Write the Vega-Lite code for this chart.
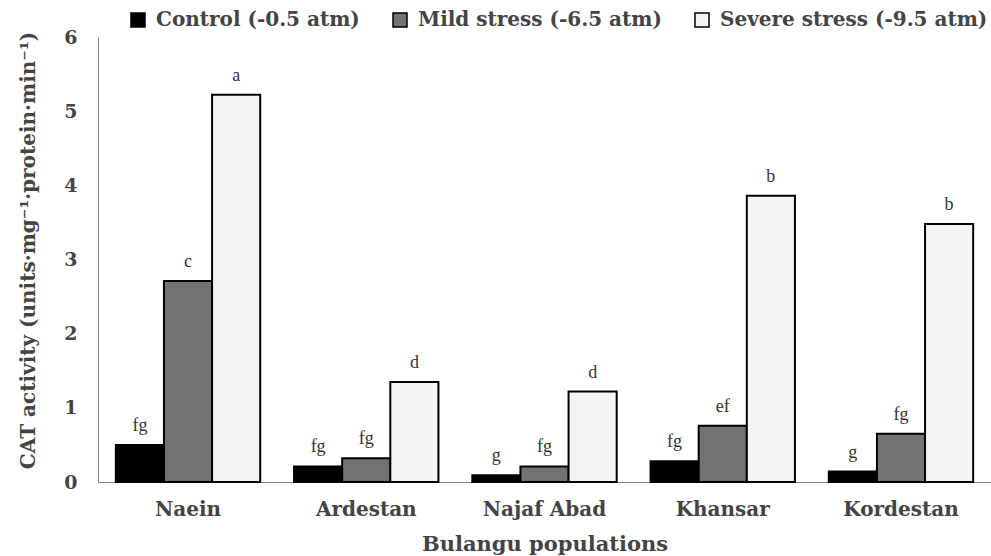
{
  "$schema": "https://vega.github.io/schema/vega-lite/v6.json",
  "width": 893,
  "height": 445,
  "autosize": {"type": "none"},
  "padding": {"left": 98, "top": 37, "right": 0, "bottom": 74},
  "background": "white",
  "config": {"view": {"stroke": null}},
  "data": {
    "values": [
      {"Population": "Naein", "Treatment": "Control (-0.5 atm)", "CAT": 0.50, "Letter": "fg"},
      {"Population": "Naein", "Treatment": "Mild stress (-6.5 atm)", "CAT": 2.71, "Letter": "c"},
      {"Population": "Naein", "Treatment": "Severe stress (-9.5 atm)", "CAT": 5.22, "Letter": "a"},
      {"Population": "Ardestan", "Treatment": "Control (-0.5 atm)", "CAT": 0.21, "Letter": "fg"},
      {"Population": "Ardestan", "Treatment": "Mild stress (-6.5 atm)", "CAT": 0.32, "Letter": "fg"},
      {"Population": "Ardestan", "Treatment": "Severe stress (-9.5 atm)", "CAT": 1.35, "Letter": "d"},
      {"Population": "Najaf Abad", "Treatment": "Control (-0.5 atm)", "CAT": 0.09, "Letter": "g"},
      {"Population": "Najaf Abad", "Treatment": "Mild stress (-6.5 atm)", "CAT": 0.21, "Letter": "fg"},
      {"Population": "Najaf Abad", "Treatment": "Severe stress (-9.5 atm)", "CAT": 1.22, "Letter": "d"},
      {"Population": "Khansar", "Treatment": "Control (-0.5 atm)", "CAT": 0.28, "Letter": "fg"},
      {"Population": "Khansar", "Treatment": "Mild stress (-6.5 atm)", "CAT": 0.76, "Letter": "ef"},
      {"Population": "Khansar", "Treatment": "Severe stress (-9.5 atm)", "CAT": 3.86, "Letter": "b"},
      {"Population": "Kordestan", "Treatment": "Control (-0.5 atm)", "CAT": 0.14, "Letter": "g"},
      {"Population": "Kordestan", "Treatment": "Mild stress (-6.5 atm)", "CAT": 0.65, "Letter": "fg"},
      {"Population": "Kordestan", "Treatment": "Severe stress (-9.5 atm)", "CAT": 3.48, "Letter": "b"}
    ]
  },
  "encoding": {
    "x": {
      "field": "Population",
      "type": "nominal",
      "sort": null,
      "scale": {"paddingInner": 0.19, "paddingOuter": 0.1},
      "axis": {
        "title": "Bulangu populations",
        "labelAngle": 0,
        "ticks": false,
        "domainColor": "#888888",
        "labelFont": "DejaVu Serif",
        "labelFontWeight": "bold",
        "labelFontSize": 20,
        "labelColor": "#444444",
        "labelPadding": 17,
        "titleFont": "DejaVu Serif",
        "titleFontWeight": "bold",
        "titleFontSize": 21,
        "titleColor": "#444444",
        "titlePadding": 14
      }
    },
    "xOffset": {"field": "Treatment", "type": "nominal", "sort": null, "scale": {"paddingInner": 0}},
    "y": {
      "field": "CAT",
      "type": "quantitative",
      "scale": {"domain": [0, 6], "nice": false},
      "axis": {
        "title": "CAT activity (units·mg⁻¹·protein·min⁻¹)",
        "values": [0, 1, 2, 3, 4, 5, 6],
        "grid": false,
        "ticks": false,
        "domainColor": "#888888",
        "labelFont": "DejaVu Serif",
        "labelFontWeight": "bold",
        "labelFontSize": 19,
        "labelColor": "#444444",
        "labelPadding": 21,
        "titleFont": "DejaVu Serif",
        "titleFontWeight": "bold",
        "titleFontSize": 20,
        "titleColor": "#444444",
        "titlePadding": 25,
        "titleY": 213
      }
    }
  },
  "layer": [
    {
      "mark": {"type": "bar", "stroke": "black", "strokeWidth": 2},
      "encoding": {
        "color": {
          "field": "Treatment",
          "type": "nominal",
          "sort": null,
          "scale": {"range": ["#000000", "#727272", "#f4f4f4"]},
          "legend": {
            "title": null,
            "orient": "none",
            "legendX": 30,
            "legendY": -27,
            "direction": "horizontal",
            "symbolType": "square",
            "symbolSize": 196,
            "symbolStrokeColor": "black",
            "symbolStrokeWidth": 1.5,
            "labelFont": "DejaVu Serif",
            "labelFontWeight": "bold",
            "labelFontSize": 20,
            "labelColor": "#444444",
            "labelOffset": 8,
            "columnPadding": 30,
            "labelLimit": 400
          }
        }
      }
    },
    {
      "mark": {"type": "text", "baseline": "bottom", "dy": -10, "font": "Liberation Serif", "fontSize": 18, "color": "#333333"},
      "encoding": {"text": {"field": "Letter"}}
    }
  ]
}
